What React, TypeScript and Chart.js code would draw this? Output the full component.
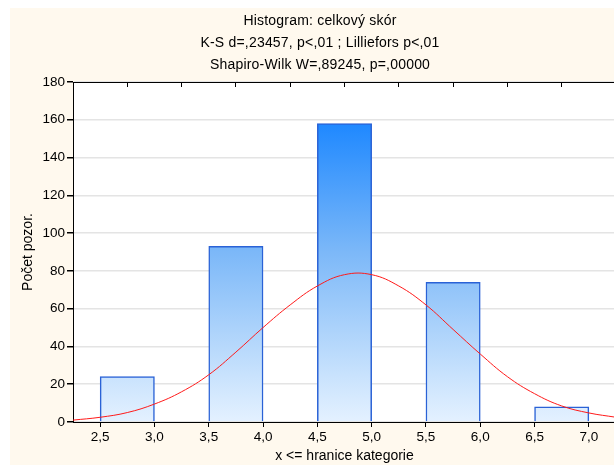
import React, { useEffect, useRef } from 'react';
import { Chart, registerables } from 'chart.js';

Chart.register(...registerables);

const titleLines = [
  'Histogram: celkový skór',
  'K-S d=,23457, p<,01 ; Lilliefors p<,01',
  'Shapiro-Wilk W=,89245, p=,00000',
];
const yTitle = 'Počet pozor.';
const xTitle = 'x <= hranice kategorie';

const binStarts = [2.5, 3.5, 4.5, 5.5, 6.5];
const binEnds = [3.0, 4.0, 5.0, 6.0, 7.0];
const counts = [24, 93, 158, 74, 8];

const curveX = [2.25, 2.5, 2.75, 3.0, 3.25, 3.5, 3.75, 4.0, 4.25, 4.5, 4.75, 5.0, 5.25, 5.5, 5.75, 6.0, 6.25, 6.5, 6.75, 7.0, 7.25];
const curveY = [1.0, 2.5, 5.0, 9.5, 16, 25, 37, 50, 62, 72, 78, 78, 72, 62, 49, 36, 24, 15, 8.5, 4.8, 2.5];

const xTicks = [2.5, 3.0, 3.5, 4.0, 4.5, 5.0, 5.5, 6.0, 6.5, 7.0];
const xMin = 2.25;
const xMax = 7.25;
const yMin = 0;
const yMax = 180;
const yStep = 20;

const FONT = "'Liberation Sans', Arial, sans-serif";

const bgPlugin = {
  id: 'bgPlugin',
  beforeDraw(chart: any) {
    const { ctx, chartArea: a, width, height } = chart;
    ctx.save();
    ctx.fillStyle = '#ffffff';
    ctx.fillRect(0, 0, width, height);
    ctx.fillStyle = '#fff9ee';
    ctx.fillRect(10, 8, width - 10, height - 9);
    ctx.fillStyle = '#ffffff';
    ctx.fillRect(a.left, a.top, a.right - a.left, a.bottom - a.top);
    ctx.restore();
  },
  afterDraw(chart: any) {
    const { ctx } = chart;
    ctx.save();
    ctx.fillStyle = '#000';
    ctx.font = `14px ${FONT}`;
    try { (ctx as any).letterSpacing = '0.2px'; } catch (e) {}
    ctx.textAlign = 'center';
    ctx.textBaseline = 'middle';
    const ys = [21, 43, 65];
    titleLines.forEach((t, i) => ctx.fillText(t, 320, ys[i]));
    ctx.restore();
  },
};

function barGradient(context: any) {
  const chart = context.chart;
  const a = chart.chartArea;
  if (!a) return '#7cb9f8';
  const g = chart.ctx.createLinearGradient(0, a.top, 0, a.bottom);
  g.addColorStop(0, '#1582ff');
  g.addColorStop(0.12, '#1e88ff');
  g.addColorStop(0.5, '#7cb8f8');
  g.addColorStop(0.86, '#c8e2fd');
  g.addColorStop(1, '#e4f1ff');
  return g;
}

const tickFmt = (v: any) => Number(v).toFixed(1).replace('.', ',');

export default function App() {
  const ref = useRef<HTMLCanvasElement | null>(null);
  useEffect(() => {
    if (!ref.current) return;
    const barData = binStarts.map((s, i) => ({ x: (s + binEnds[i]) / 2, y: counts[i] }));
    const lineData = curveX.map((x, i) => ({ x, y: curveY[i] }));
    const setTicks = (scale: any) => {
      scale.ticks = xTicks.map((v) => ({ value: v }));
    };
    const chart = new Chart(ref.current, {
      type: 'bar',
      data: {
        datasets: [
          {
            type: 'line',
            data: lineData,
            borderColor: '#ff1a1a',
            borderWidth: 1,
            pointRadius: 0,
            tension: 0.4,
            fill: false,
            order: 0,
          } as any,
          {
            type: 'bar',
            data: barData,
            backgroundColor: barGradient,
            borderColor: '#2a62d6',
            borderWidth: 1.5,
            borderSkipped: 'start',
            barPercentage: 1,
            categoryPercentage: 1,
            order: 1,
          } as any,
        ],
      },
      plugins: [bgPlugin],
      options: {
        responsive: false,
        animation: false,
        devicePixelRatio: 1,
        layout: { padding: { top: 82, left: 0, right: 4, bottom: 0 } },
        plugins: {
          legend: { display: false },
          title: { display: false },
          tooltip: { enabled: false },
        },
        font: { family: FONT, size: 13 },
        scales: {
          x: {
            type: 'linear',
            position: 'bottom',
            min: xMin,
            max: xMax,
            offset: false,
            afterBuildTicks: setTicks,
            afterFit: (s: any) => { s.height = 44; },
            ticks: {
              color: '#000',
              font: { family: FONT, size: 13.5 },
              padding: 2,
              maxRotation: 0,
              autoSkip: false,
              callback: tickFmt,
            },
            grid: {
              drawOnChartArea: false,
              drawTicks: true,
              tickLength: 5,
              tickColor: '#000',
              offset: false,
            },
            border: { display: true, color: '#000', width: 1 },
            title: {
              display: true,
              text: xTitle,
              color: '#000',
              font: { family: FONT, size: 14 },
              padding: { top: 0, bottom: 1 },
            },
          },
          xTop: {
            type: 'linear',
            position: 'top',
            min: xMin,
            max: xMax,
            offset: false,
            afterBuildTicks: setTicks,
            afterFit: (s: any) => { s.height = 0; },
            ticks: { display: false },
            grid: {
              drawOnChartArea: false,
              drawTicks: true,
              tickLength: -5,
              tickColor: '#000',
            },
            border: { display: true, color: '#000', width: 1 },
          },
          y: {
            type: 'linear',
            position: 'left',
            min: yMin,
            max: yMax,
            afterFit: (s: any) => { s.width = 73; },
            ticks: {
              stepSize: yStep,
              color: '#000',
              font: { family: FONT, size: 13.5 },
              padding: 2,
            },
            grid: {
              color: '#e4e4e4',
              lineWidth: 1.5,
              drawTicks: true,
              tickLength: 6,
              tickColor: '#000',
            },
            border: { display: true, color: '#000', width: 1 },
            title: {
              display: true,
              text: yTitle,
              color: '#000',
              font: { family: FONT, size: 14 },
              padding: { top: 20, bottom: 0 },
            },
          },
        },
      } as any,
    });
    return () => chart.destroy();
  }, []);
  return (
    <div style={{ position: 'absolute', left: 0, top: 0, width: 614, height: 466, overflow: 'hidden' }}>
      <canvas ref={ref} width={620} height={466} style={{ display: 'block', width: 620, height: 466 }} />
    </div>
  );
}
